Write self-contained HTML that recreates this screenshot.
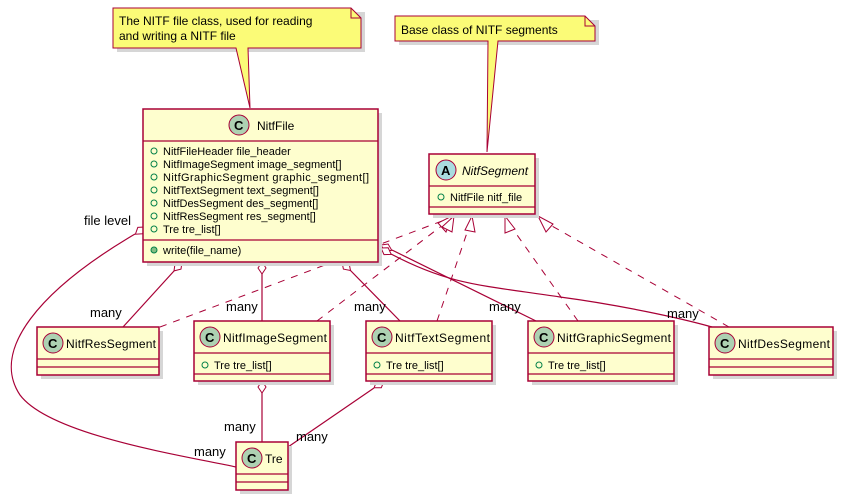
<!DOCTYPE html>
<html><head><meta charset="utf-8"><style>
html,body{margin:0;padding:0;background:#fff;}
svg{display:block;font-family:"Liberation Sans",sans-serif;}
.box{fill:#FEFECE;stroke:#A80036;stroke-width:1.5;}
.sh{fill:#d6d6d6;}
.ln{stroke:#A80036;stroke-width:1.2;fill:none;}
.dl{stroke:#A80036;stroke-width:1;fill:none;stroke-dasharray:7,7;}
.t{font-size:11px;fill:#000;}
.n{font-size:12px;fill:#000;}
.lbl{font-size:13px;fill:#000;}
.ci{fill:#ADD1B2;stroke:#A80036;stroke-width:1;}
.cl{font-size:13px;font-weight:bold;fill:#000;}
.pm{fill:none;stroke:#038048;stroke-width:1;}
</style></head><body>
<svg width="842" height="500" viewBox="0 0 842 500">
<!-- notes -->
<polygon points="117,12 365,12 365,52 117,52" class="sh"/>
<path d="M113,8 L351,8 L361,18 L361,48 L248,48 L250,108 L236,48 L113,48 Z" fill="#FBFB77" stroke="#A80036" stroke-width="1"/>
<path d="M351,8 L351,18 L361,18" fill="none" stroke="#A80036" stroke-width="1"/>
<text x="119" y="25" class="n">The NITF file class, used for reading</text>
<text x="119" y="40" class="n">and writing a NITF file</text>

<polygon points="399,20 599,20 599,45 399,45" class="sh"/>
<path d="M395,16 L585,16 L595,26 L595,41 L498,41 L487,152 L488,41 L395,41 Z" fill="#FBFB77" stroke="#A80036" stroke-width="1"/>
<path d="M585,16 L585,26 L595,26" fill="none" stroke="#A80036" stroke-width="1"/>
<text x="401" y="34" class="n">Base class of NITF segments</text>

<!-- edges -->
<path class="ln" d="M135,234 C40,290 -10,350 20,395 C50,435 180,455 236,467"/>
<path class="ln" d="M174,271 L123,327"/>
<path class="ln" d="M262,274 L262,321"/>
<path class="ln" d="M350,270 L400,321"/>
<path class="ln" d="M392,250 L536,321"/>
<path class="ln" d="M391,254 C450,285 480,285 560,297 C620,305 680,318 712,327"/>
<path class="ln" d="M374,388 L288,447"/>
<path class="ln" d="M262,393 L262,442"/>
<!-- diamonds -->
<g fill="#fff" stroke="#A80036" stroke-width="1">
<polygon points="145,227 137.8,227.4 135.4,234.2 142.6,233.8"/>
<polygon points="182,262 175,263.8 174,270.9 181,269.1"/>
<polygon points="262,262 258,268 262,274 266,268"/>
<polygon points="342,262 343.4,269.1 350.5,270.5 349.1,263.4"/>
<polygon points="381,245 384.6,251.2 391.8,250.3 388.1,244"/>
<polygon points="381,248 384,254.6 391.2,254.4 388.2,247.8"/>
<polygon points="262,381 258,387 262,393 266,387"/>
<polygon points="384,381 376.8,381 374.1,387.7 381.3,387.7"/>
</g>
<!-- generalizations -->
<path class="dl" d="M160,327 L450,218"/>
<path class="dl" d="M317,321 L452,218"/>
<path class="dl" d="M437,321 L472,218"/>
<path class="dl" d="M578,321 L505,218"/>
<path class="dl" d="M729,327 L538,218"/>
<g fill="#fff" stroke="#A80036" stroke-width="1">
<polygon points="452,216 446,232 438,223"/>
<polygon points="454,216 452,232 442,227"/>
<polygon points="472,216 475,232 465,230"/>
<polygon points="505,216 515,229 505,233"/>
<polygon points="538,216 553,224 546,232"/>
</g>
<!-- labels -->
<text x="84" y="225" class="lbl">file level</text>
<text x="90" y="317" class="lbl">many</text>
<text x="226" y="311" class="lbl">many</text>
<text x="354" y="311" class="lbl">many</text>
<text x="489" y="311" class="lbl">many</text>
<text x="667" y="318" class="lbl">many</text>
<text x="224" y="431" class="lbl">many</text>
<text x="296" y="441" class="lbl">many</text>
<text x="194" y="456" class="lbl">many</text>

<!-- NitfFile -->
<rect x="147" y="113" width="235" height="153" class="sh"/>
<rect x="143" y="109" width="235" height="153" class="box"/>
<line x1="143" y1="141" x2="378" y2="141" class="ln"/>
<line x1="143" y1="240" x2="378" y2="240" class="ln"/>
<circle cx="239" cy="125" r="10" class="ci"/><text x="234" y="130" class="cl">C</text>
<text x="257" y="130" class="n">NitfFile</text>
<g class="t">
<text x="163" y="155">NitfFileHeader file_header</text>
<text x="163" y="168">NitfImageSegment image_segment[]</text>
<text x="163" y="181" textLength="206">NitfGraphicSegment graphic_segment[]</text>
<text x="163" y="194">NitfTextSegment text_segment[]</text>
<text x="163" y="207">NitfDesSegment des_segment[]</text>
<text x="163" y="220">NitfResSegment res_segment[]</text>
<text x="163" y="233">Tre tre_list[]</text>
<text x="163" y="254">write(file_name)</text>
</g>
<g class="pm"><circle cx="154" cy="151" r="3"/><circle cx="154" cy="164" r="3"/><circle cx="154" cy="177" r="3"/><circle cx="154" cy="190" r="3"/><circle cx="154" cy="203" r="3"/><circle cx="154" cy="216" r="3"/><circle cx="154" cy="229" r="3"/></g>
<circle cx="154" cy="250" r="3" fill="#84BE84" stroke="#038048"/>

<!-- NitfSegment -->
<rect x="433" y="158" width="106" height="60" class="sh"/>
<rect x="429" y="154" width="106" height="60" class="box"/>
<line x1="429" y1="186" x2="535" y2="186" class="ln"/>
<line x1="429" y1="207" x2="535" y2="207" class="ln"/>
<circle cx="446" cy="170" r="10" fill="#A9DCDF" stroke="#A80036"/><text x="441" y="175" class="cl">A</text>
<text x="462" y="175" class="n" font-style="italic">NitfSegment</text>
<circle cx="441" cy="197" r="3" class="pm"/><text x="450" y="201" class="t">NitfFile nitf_file</text>

<!-- segments -->
<g>
<rect x="41" y="331" width="122" height="48" class="sh"/>
<rect x="37" y="327" width="122" height="48" class="box"/>
<line x1="37" y1="359" x2="159" y2="359" class="ln"/><line x1="37" y1="367" x2="159" y2="367" class="ln"/>
<circle cx="53" cy="343" r="10" class="ci"/><text x="48" y="348" class="cl">C</text>
<text x="66" y="348" class="n" textLength="90">NitfResSegment</text>

<rect x="198" y="325" width="136" height="60" class="sh"/>
<rect x="194" y="321" width="136" height="60" class="box"/>
<line x1="194" y1="353" x2="330" y2="353" class="ln"/><line x1="194" y1="374" x2="330" y2="374" class="ln"/>
<circle cx="210" cy="337" r="10" class="ci"/><text x="205" y="342" class="cl">C</text>
<text x="223" y="342" class="n" textLength="104">NitfImageSegment</text>
<circle cx="205" cy="365" r="3" class="pm"/><text x="214" y="369" class="t">Tre tre_list[]</text>

<rect x="370" y="325" width="126" height="60" class="sh"/>
<rect x="366" y="321" width="126" height="60" class="box"/>
<line x1="366" y1="353" x2="492" y2="353" class="ln"/><line x1="366" y1="374" x2="492" y2="374" class="ln"/>
<circle cx="382" cy="337" r="10" class="ci"/><text x="377" y="342" class="cl">C</text>
<text x="395" y="342" class="n" textLength="95">NitfTextSegment</text>
<circle cx="377" cy="365" r="3" class="pm"/><text x="386" y="369" class="t">Tre tre_list[]</text>

<rect x="532" y="325" width="146" height="60" class="sh"/>
<rect x="528" y="321" width="146" height="60" class="box"/>
<line x1="528" y1="353" x2="674" y2="353" class="ln"/><line x1="528" y1="374" x2="674" y2="374" class="ln"/>
<circle cx="544" cy="337" r="10" class="ci"/><text x="539" y="342" class="cl">C</text>
<text x="557" y="342" class="n" textLength="114">NitfGraphicSegment</text>
<circle cx="539" cy="365" r="3" class="pm"/><text x="548" y="369" class="t">Tre tre_list[]</text>

<rect x="713" y="331" width="124" height="48" class="sh"/>
<rect x="709" y="327" width="124" height="48" class="box"/>
<line x1="709" y1="359" x2="833" y2="359" class="ln"/><line x1="709" y1="367" x2="833" y2="367" class="ln"/>
<circle cx="725" cy="343" r="10" class="ci"/><text x="720" y="348" class="cl">C</text>
<text x="738" y="348" class="n" textLength="92">NitfDesSegment</text>

<rect x="240" y="446" width="52" height="48" class="sh"/>
<rect x="236" y="442" width="52" height="48" class="box"/>
<line x1="236" y1="474" x2="288" y2="474" class="ln"/><line x1="236" y1="482" x2="288" y2="482" class="ln"/>
<circle cx="252" cy="458" r="10" class="ci"/><text x="247" y="463" class="cl">C</text>
<text x="265" y="463" class="n">Tre</text>
</g>
</svg>
</body></html>
